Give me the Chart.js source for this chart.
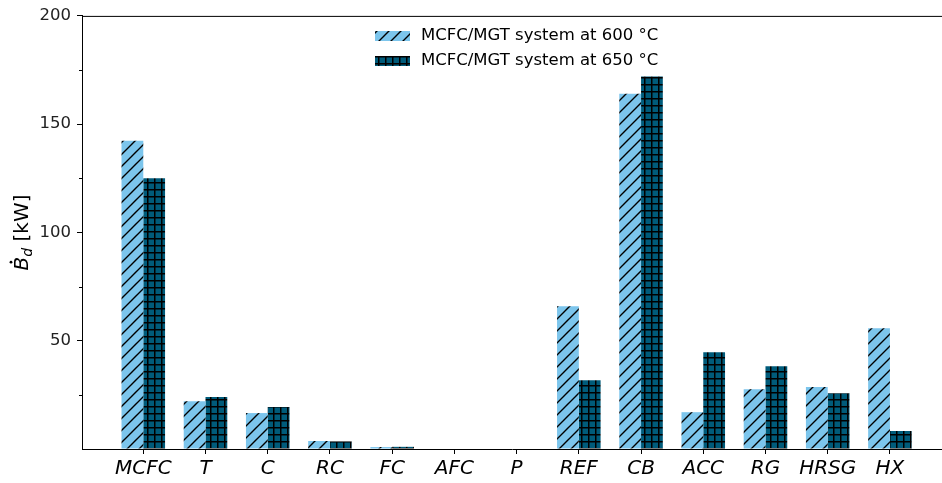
<!DOCTYPE html>
<html>
<head>
<meta charset="utf-8">
<script src="https://cdn.jsdelivr.net/npm/chart.js@4.4.1/dist/chart.umd.min.js"></script>
<style>
  html, body { margin: 0; padding: 0; background: #fff; }
  #wrap { width: 942px; height: 483px; position: relative; }
</style>
</head>
<body>
<div id="wrap"><canvas id="chart"></canvas></div>
<script>
// Components and exergy destruction values (kW)
const components = ['MCFC', 'T', 'C', 'RC', 'FC', 'AFC', 'P', 'REF', 'CB', 'ACC', 'RG', 'HRSG', 'HX'];
const series600 = [142.4, 22.1, 16.6, 3.7, 0.9, 0, 0, 65.9, 164.0, 17.0, 27.6, 28.6, 55.8];
const series650 = [125.0, 24.0, 19.4, 3.5, 1.0, 0, 0, 31.8, 172.0, 44.7, 38.2, 25.8, 8.3];
const seriesLabels = ['MCFC/MGT system at 600 °C', 'MCFC/MGT system at 650 °C'];
const yMajorTicks = [50, 100, 150, 200];
const yMinorTicks = [25, 75, 125, 175];

// Hatch patterns (matplotlib style '/' and '+')
function diagonalHatch(bg) {
  const c = document.createElement('canvas');
  const s = 12;
  c.width = s; c.height = s;
  const g = c.getContext('2d');
  g.fillStyle = bg;
  g.fillRect(0, 0, s, s);
  g.strokeStyle = '#000';
  g.lineWidth = 1.4;
  g.beginPath();
  g.moveTo(-2, s + 2); g.lineTo(s + 2, -2);
  g.moveTo(-2, 2); g.lineTo(2, -2);
  g.moveTo(s - 2, s + 2); g.lineTo(s + 2, s - 2);
  g.stroke();
  return g.createPattern(c, 'repeat');
}

function gridHatch(bg) {
  const c = document.createElement('canvas');
  const s = 7;
  c.width = s; c.height = s;
  const g = c.getContext('2d');
  g.fillStyle = bg;
  g.fillRect(0, 0, s, s);
  g.fillStyle = '#000';
  g.fillRect(0, 0, s, 1.5);
  g.fillRect(0, 0, 1.5, s);
  return g.createPattern(c, 'repeat');
}

const fill600 = diagonalHatch('#7cc5ec');
const fill650 = gridHatch('#005b7a');

// Extras: top spine, minor ticks, y label, legend
const extras = {
  id: 'extras',
  afterDraw(chart) {
    const ctx = chart.ctx;
    const area = chart.chartArea;
    const y = chart.scales.y;

    ctx.save();
    // top spine
    ctx.strokeStyle = '#000';
    ctx.lineWidth = 1;
    ctx.beginPath();
    ctx.moveTo(area.left, area.top + 0.5);
    ctx.lineTo(area.right, area.top + 0.5);
    ctx.stroke();

    // minor ticks
    yMinorTicks.forEach(v => {
      const py = Math.round(y.getPixelForValue(v)) + 0.5;
      ctx.beginPath();
      ctx.moveTo(area.left - 3, py);
      ctx.lineTo(area.left, py);
      ctx.stroke();
    });

    // y axis label: B-dot with subscript d
    ctx.translate(23, (area.top + area.bottom) / 2);
    ctx.rotate(-Math.PI / 2);
    ctx.fillStyle = '#000';
    ctx.textBaseline = 'middle';
    const bigFont = 'italic 20px "DejaVu Sans"';
    const subFont = 'italic 14px "DejaVu Sans"';
    const regFont = '20px "DejaVu Sans"';
    ctx.font = bigFont;
    const wB = ctx.measureText('B').width;
    ctx.font = subFont;
    const wd = ctx.measureText('d').width;
    ctx.font = regFont;
    const wk = ctx.measureText(' [kW]').width;
    let x0 = -(wB + wd + wk) / 2;
    ctx.font = bigFont;
    ctx.fillText('B', x0, 0);
    ctx.beginPath();
    ctx.arc(x0 + wB * 0.6, -12, 1.4, 0, Math.PI * 2);
    ctx.fill();
    x0 += wB;
    ctx.font = subFont;
    ctx.fillText('d', x0, 5);
    x0 += wd;
    ctx.font = regFont;
    ctx.fillText(' [kW]', x0, 0);
    ctx.restore();

    // legend
    ctx.save();
    ctx.font = '16.5px "DejaVu Sans"';
    ctx.textBaseline = 'middle';
    chart.data.datasets.forEach((ds, i) => {
      const ly = 31 + i * 25;
      ctx.fillStyle = ds.backgroundColor;
      ctx.fillRect(375, ly, 35, 10);
      ctx.fillStyle = '#000';
      ctx.fillText(ds.label, 421, ly + 5);
    });
    ctx.restore();
  }
};

const pointsOf = arr => arr.map((v, i) => ({ x: i, y: v }));

new Chart(document.getElementById('chart'), {
  type: 'bar',
  data: {
    datasets: [
      { label: seriesLabels[0], data: pointsOf(series600), backgroundColor: fill600, borderWidth: 0 },
      { label: seriesLabels[1], data: pointsOf(series650), backgroundColor: fill650, borderWidth: 0 }
    ]
  },
  options: {
    responsive: true,
    maintainAspectRatio: false,
    animation: false,
    layout: { padding: { top: 15, right: 0, left: 0, bottom: 0 } },
    datasets: { bar: { categoryPercentage: 0.7, barPercentage: 1.0, grouped: true } },
    plugins: {
      legend: { display: false },
      tooltip: { enabled: false }
    },
    scales: {
      x: {
        type: 'linear',
        min: -0.985,
        max: 12.837,
        offset: false,
        grid: { display: true, offset: false, drawOnChartArea: false, tickLength: 5, color: '#000' },
        border: { display: true, color: '#000', width: 1 },
        afterBuildTicks(scale) {
          scale.ticks = components.map((_, i) => ({ value: i }));
        },
        afterFit(scale) { scale.height = 34; },
        ticks: {
          autoSkip: false,
          maxRotation: 0,
          padding: 3,
          color: '#000',
          font: { family: 'DejaVu Sans', size: 20, style: 'italic' },
          callback: v => components[v] ?? ''
        }
      },
      y: {
        min: 0,
        max: 200,
        grid: {
          display: true,
          drawOnChartArea: false,
          tickLength: 5,
          color: '#000',
          tickColor: c => (c.tick && c.tick.value === 0 ? 'rgba(0,0,0,0)' : '#000')
        },
        border: { display: true, color: '#000', width: 1 },
        afterBuildTicks(scale) {
          scale.ticks = [0].concat(yMajorTicks).map(v => ({ value: v }));
        },
        afterFit(scale) { scale.width = 82; },
        ticks: {
          padding: 6,
          color: '#222',
          font: { family: 'DejaVu Sans', size: 16.5 },
          callback: v => (v === 0 ? '' : v)
        }
      }
    }
  },
  plugins: [extras]
});
</script>
</body>
</html>
